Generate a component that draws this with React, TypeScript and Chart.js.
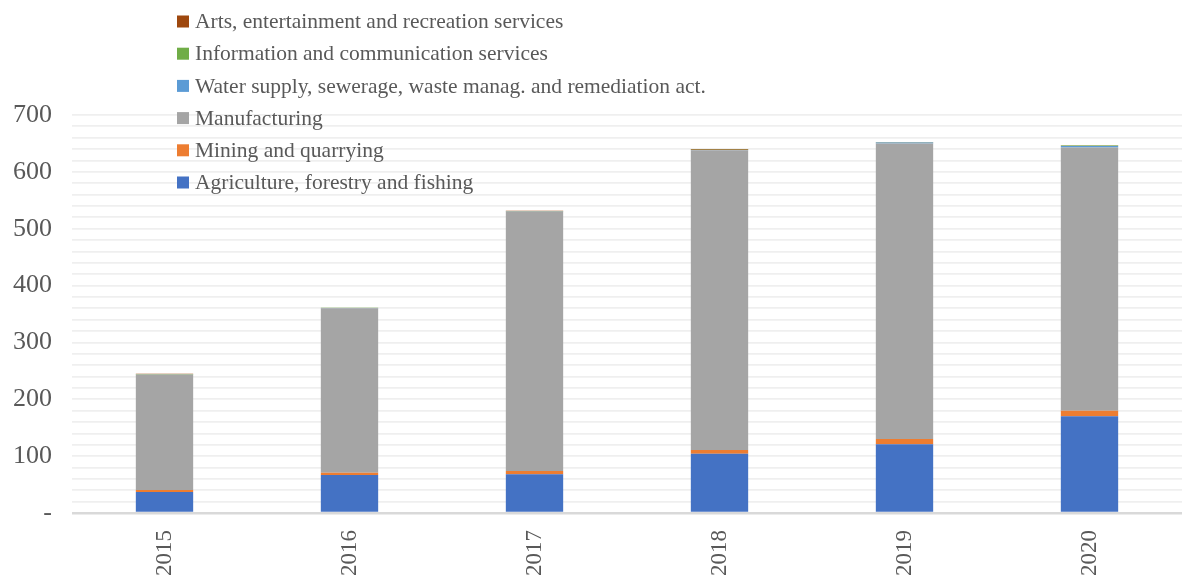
import React, { useEffect, useRef } from "react";
import { Chart, registerables } from "chart.js";

Chart.register(...registerables);

const years = ["2015", "2016", "2017", "2018", "2019", "2020"];
const agriculture = [37, 67, 68, 104, 121, 170];
const mining = [3.5, 4, 6, 7, 9, 10];
const manufacturing = [203, 289, 456, 527, 520, 463];
const water = [0.3, 0.4, 0.4, 0.5, 1.5, 2.5];
const information = [0.5, 0.5, 0.5, 0.5, 0.5, 0.8];
const arts = [0.6, 0.3, 0.8, 1, 0.3, 0.3];
const yTickLabels = { 0: "-", 100: "100", 200: "200", 300: "300", 400: "400", 500: "500", 600: "600", 700: "700" } as Record<number, string>;

const FONT = "'Liberation Serif', 'Times New Roman', serif";
const TEXT = "#595959";

const legendPlugin = {
  id: "vlegend",
  afterDraw(chart: any) {
    const ctx = chart.ctx;
    const ds = chart.data.datasets.slice().reverse();
    ctx.save();
    ctx.font = `21.5px ${FONT}`;
    ctx.textBaseline = "middle";
    ctx.textAlign = "left";
    ds.forEach((d: any, i: number) => {
      const cy = 21.5 + i * 32.2;
      ctx.fillStyle = d.backgroundColor;
      ctx.fillRect(177, cy - 6, 12, 12);
      ctx.fillStyle = TEXT;
      ctx.fillText(d.label, 195, cy + 1);
    });
    ctx.restore();
  },
};

export default function App() {
  const ref = useRef<HTMLCanvasElement | null>(null);
  useEffect(() => {
    if (!ref.current) return;
    const mk = (label: string, data: number[], color: string) => ({
      label,
      data,
      backgroundColor: color,
      borderWidth: 0,
      barPercentage: 0.31,
      categoryPercentage: 1,
    });
    const chart = new Chart(ref.current, {
      type: "bar",
      data: {
        labels: years,
        datasets: [
          mk("Agriculture, forestry and fishing", agriculture, "#4472C4"),
          mk("Mining and quarrying", mining, "#ED7D31"),
          mk("Manufacturing", manufacturing, "#A5A5A5"),
          mk("Water supply, sewerage, waste manag. and remediation act.", water, "#5B9BD5"),
          mk("Information and communication services", information, "#70AD47"),
          mk("Arts, entertainment and recreation services", arts, "#9E480E"),
        ],
      },
      options: {
        responsive: false,
        animation: false,
        layout: { padding: { top: 115, right: 0, left: 0, bottom: 0 } },
        plugins: { legend: { display: false }, tooltip: { enabled: false } },
        scales: {
          x: {
            stacked: true,
            grid: { display: false },
            border: { display: false },
            ticks: {
              color: TEXT,
              font: { family: FONT, size: 23 },
              minRotation: 90,
              maxRotation: 90,
              padding: 9,
            },
            afterFit: (axis: any) => {
              axis.height = 63;
            },
          },
          y: {
            stacked: true,
            min: 0,
            max: 700,
            border: { display: false },
            grid: {
              color: (c: any) => (c.tick && c.tick.value === 0 ? "#d9d9d9" : "#efefef"),
              lineWidth: (c: any) => (c.tick && c.tick.value === 0 ? 2.5 : 1.8),
              drawTicks: false,
            },
            ticks: {
              stepSize: 20,
              autoSkip: false,
              color: TEXT,
              font: { family: FONT, size: 26 },
              padding: 20,
              callback: (v: any) => {
                const n = Math.round(Number(v));
                return n in yTickLabels ? yTickLabels[n] : "";
              },
            },
            afterFit: (axis: any) => {
              axis.width = 72;
            },
          },
        },
      },
      plugins: [legendPlugin],
    });
    return () => chart.destroy();
  }, []);
  return (
    <div style={{ position: "fixed", left: 0, top: 0, width: 1182, height: 576, background: "#fff" }}>
      <canvas ref={ref} width={1182} height={576} />
    </div>
  );
}
